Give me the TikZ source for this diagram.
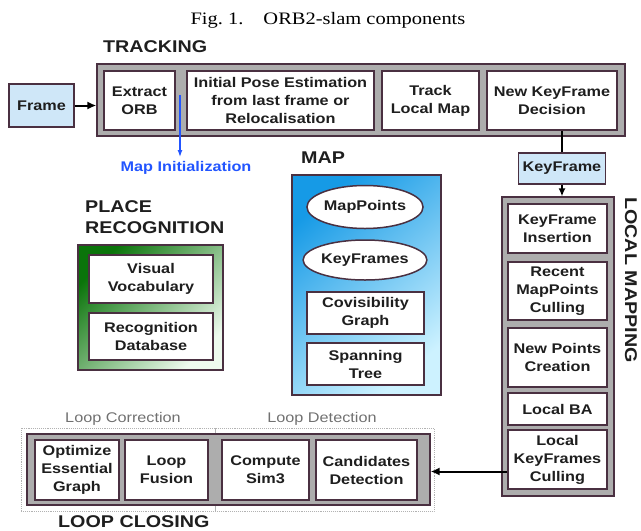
\documentclass[tikz,border=0pt]{standalone}
\usepackage{fontspec}
\setmainfont{Liberation Serif}[FakeStretch=1.17]
\newfontfamily\labsans{Liberation Sans}[FakeStretch=1.16]
\usetikzlibrary{shapes.geometric,arrows.meta}
\definecolor{bord}{HTML}{4A3041}
\definecolor{ink}{HTML}{1E1E1E}
\definecolor{panel}{HTML}{ADADAD}
\definecolor{paleblue}{HTML}{CFE7F8}
\definecolor{mapdark}{HTML}{169AE6}
\definecolor{mapmid}{HTML}{40B4EE}
\definecolor{maplight}{HTML}{CDF2FF}
\definecolor{grdark}{HTML}{0A740A}
\definecolor{grmid}{HTML}{45A445}
\definecolor{grlight}{HTML}{EEFAEE}
\definecolor{initblue}{HTML}{2255FF}
\definecolor{subgray}{HTML}{707070}

\tikzset{
  base/.style={inner sep=0pt, align=center, text=ink,
    font=\labsans\bfseries\fontsize{14}{18}\selectfont},
  wbox/.style={base, draw=bord, line width=1.5pt, fill=white},
  bluebox/.style={wbox, fill=paleblue},
  oval/.style={wbox, ellipse},
  panelbox/.style={draw=bord, line width=1.2pt, fill=panel, inner sep=0pt},
  title/.style={inner sep=0pt, text=ink, align=left,
    font=\labsans\bfseries\fontsize{17}{21}\selectfont},
  sublabel/.style={inner sep=0pt, text=subgray,
    font=\labsans\fontsize{14}{17}\selectfont},
  dotbox/.style={draw=gray!60, densely dotted, line width=0.9pt, inner sep=0pt},
  flow/.style={line width=2pt, draw=black, -{Latex[length=9pt,width=8pt]}},
}

\begin{document}
\begin{tikzpicture}[x=1pt,y=1pt]
\useasboundingbox (0,0) rectangle (641,-531);

% caption
\node[inner sep=0pt, font=\fontsize{17.5}{20}\selectfont] (cap) at (328,-20)
  {Fig.~1.\hspace{20pt}ORB2-slam components};

% ---------------- tracking ----------------
\node[title, anchor=west] (trtitle) at (103,-47) {TRACKING};
\node[panelbox, minimum width=528pt, minimum height=72pt] (track) at (361,-100) {};
\node[wbox, minimum width=71pt, minimum height=59pt] (orb) at (139.5,-100.5) {Extract\\ORB};
\node[wbox, minimum width=187pt, minimum height=59pt] (pose) at (280.5,-100.5)
  {Initial Pose Estimation\\from last frame or\\Relocalisation};
\node[wbox, minimum width=97pt, minimum height=59pt] (tlm) at (430.5,-100.5) {Track\\Local Map};
\node[wbox, minimum width=130pt, minimum height=59pt] (nkf) at (552,-100.5) {New KeyFrame\\Decision};
\node[bluebox, minimum width=65pt, minimum height=43pt] (frame) at (41.5,-105.5) {Frame};
\draw[flow] (frame.east) -- (frame.east -| track.west);

% map initialization branch
\coordinate (mi0) at (180,-95);
\node[base, text=initblue] (mapinit) at (186,-168) {Map Initialization};
\coordinate (mi1) at (180,-157);
\draw[initblue, line width=1.2pt, -{Latex[length=7pt,width=5pt]}] (mi0) -- (mi1);

% keyframe hand-over
\node[bluebox, minimum width=87pt, minimum height=31pt] (kf) at (562,-168.5) {KeyFrame};
\draw[line width=2pt] (kf.north) -- (kf.north |- nkf.south);

% ---------------- local mapping ----------------
\node[panelbox, minimum width=112pt, minimum height=299pt] (lm) at (558,-346.5) {};
\draw[line width=1.6pt, -{Latex[length=8pt,width=7pt]}] (kf.south) -- (kf.south |- lm.north);
\node[wbox, minimum width=99pt, minimum height=49pt] (kfi) at (557.5,-228.5) {KeyFrame\\Insertion};
\node[wbox, minimum width=99pt, minimum height=58pt] (rmc) at (557.5,-291) {Recent\\MapPoints\\Culling};
\node[wbox, minimum width=99pt, minimum height=59pt] (npc) at (557.5,-357.5) {New Points\\Creation};
\node[wbox, minimum width=99pt, minimum height=32pt] (lba) at (557.5,-409) {Local BA};
\node[wbox, minimum width=99pt, minimum height=59pt] (cull) at (557.5,-459.5) {Local\\KeyFrames\\Culling};
\node[title, rotate=-90, anchor=west] (lmtitle) at (631,-197) {LOCAL MAPPING};

% ---------------- map ----------------
\node[title, anchor=west] (maptitle) at (301,-158) {MAP};
\node[draw=bord, line width=1.2pt, inner sep=0pt, minimum width=149pt, minimum height=220pt,
  top color=mapdark, middle color=mapmid, bottom color=maplight, shading angle=40] (map) at (366.5,-285) {};
\node[oval, minimum width=114pt, minimum height=43pt] (mp) at (365,-207) {MapPoints};
\node[oval, minimum width=114pt, minimum height=40pt] (kfs) at (365,-260) {KeyFrames};
\node[wbox, minimum width=117pt, minimum height=42pt] (cov) at (365.5,-313) {Covisibility\\Graph};
\node[wbox, minimum width=117pt, minimum height=42pt] (span) at (365.5,-364) {Spanning\\Tree};

% ---------------- place recognition ----------------
\node[title, anchor=north west] (prtitle) at (85,-200) {PLACE\\RECOGNITION};
\node[draw=bord, line width=1.2pt, inner sep=0pt, minimum width=145pt, minimum height=125pt,
  top color=grdark, middle color=grmid, bottom color=grlight, shading angle=45] (pr) at (150.5,-307.5) {};
\node[wbox, minimum width=124pt, minimum height=48pt] (voc) at (151,-279) {Visual\\Vocabulary};
\node[wbox, minimum width=124pt, minimum height=47pt] (rdb) at (151,-336.5) {Recognition\\Database};

% ---------------- loop closing ----------------
\node[sublabel] (lctitle) at (123,-419) {Loop Correction};
\node[sublabel] (ldtitle) at (322,-419) {Loop Detection};
\node[dotbox, minimum width=194pt, minimum height=83pt] (lcorr) at (118,-469.5) {};
\node[dotbox, minimum width=219pt, minimum height=83pt] (ldet) at (324.5,-469.5) {};
\node[panelbox, minimum width=403pt, minimum height=71pt] (loop) at (228.5,-469.5) {};
\node[wbox, minimum width=84pt, minimum height=60pt] (oeg) at (77,-470) {Optimize\\Essential\\Graph};
\node[wbox, minimum width=83pt, minimum height=60pt] (fus) at (166.5,-470) {Loop\\Fusion};
\node[wbox, minimum width=87pt, minimum height=60pt] (sim) at (265.5,-470) {Compute\\Sim3};
\node[wbox, minimum width=101pt, minimum height=60pt] (cand) at (366.5,-470) {Candidates\\Detection};
\node[title, anchor=west] (lptitle) at (58,-522) {LOOP CLOSING};

\coordinate (ca) at ([yshift=-12pt]cull.west);
\coordinate (cb) at (ca -| loop.east);
\draw[flow] (ca) -- (cb);
\end{tikzpicture}
\end{document}
